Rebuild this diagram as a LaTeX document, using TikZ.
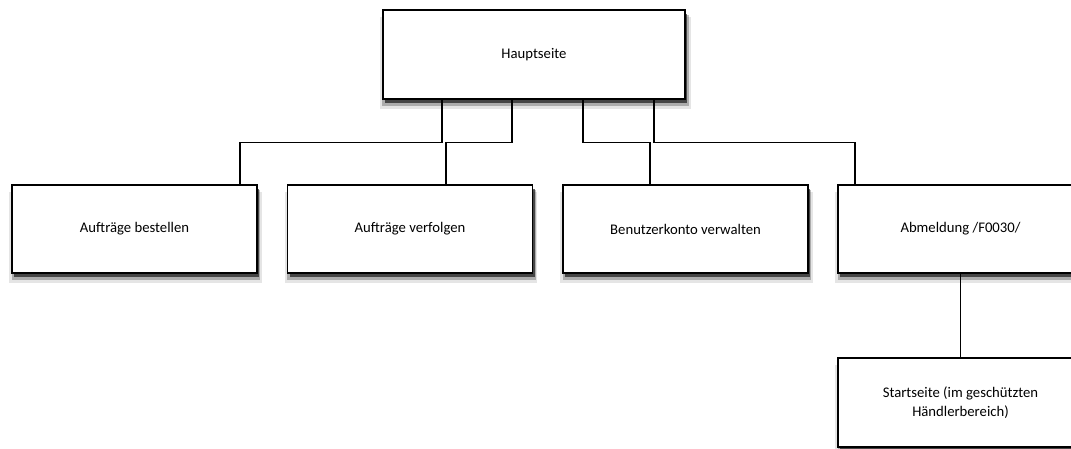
\documentclass[tikz,border=0pt]{standalone}
\usepackage{fontspec}
\setmainfont{Carlito}
\usetikzlibrary{
    positioning,        % posizionamento dei nodi
    shadows             % ombre
}

\tikzset{
    pagina/.style={draw=black, line width=1.1pt, fill=white,
        minimum width=245pt, minimum height=88pt, align=center,
        font=\fontsize{14.7pt}{19pt}\selectfont,
        drop shadow={shadow xshift=1pt, shadow yshift=-8pt, fill=black, opacity=.10, shadow scale=1.03},
        drop shadow={shadow xshift=1.5pt, shadow yshift=-6pt, fill=black, opacity=.25, shadow scale=1.015},
        drop shadow={shadow xshift=2pt, shadow yshift=-4pt, fill=black, opacity=.6}},
    collegamento/.style={line width=1.1pt}
}

\begin{document}
\begin{tikzpicture}[x=1pt, y=-1pt]

        \useasboundingbox (0,0) rectangle (1071,448);
        \clip (0,0) rectangle (1071,448);

        % pagina principale
        \node[pagina, minimum width=302pt, minimum height=89pt] (haupt) at (534,54.5) {Hauptseite};

        % sottopagine
        \node[pagina] (bestellen) at (134.5,229) {Aufträge bestellen};
        \node[pagina] (verfolgen) at (410,229) {Aufträge verfolgen};
        \node[pagina] (konto) at (685.5,229) {Benutzerkonto verwalten};
        \node[pagina] (abmeldung) at (960.5,229) {Abmeldung /F0030/};
        \node[pagina, minimum height=89pt] (start) at (960.5,402.5) {Startseite (im geschützten\\Händlerbereich)};

        % collegamenti
        \draw[collegamento] ([xshift=-92pt]haupt.south) -- ++(0,43) -| ([xshift=105.5pt]bestellen.north);
        \draw[collegamento] ([xshift=-22pt]haupt.south) -- ++(0,43) -| ([xshift=36pt]verfolgen.north);
        \draw[collegamento] ([xshift=49pt]haupt.south) -- ++(0,43) -| ([xshift=-35.5pt]konto.north);
        \draw[collegamento] ([xshift=120pt]haupt.south) -- ++(0,43) -| ([xshift=-105.5pt]abmeldung.north);
        \draw[collegamento] (abmeldung.south) -- (start.north);

    \end{tikzpicture}
\end{document}
